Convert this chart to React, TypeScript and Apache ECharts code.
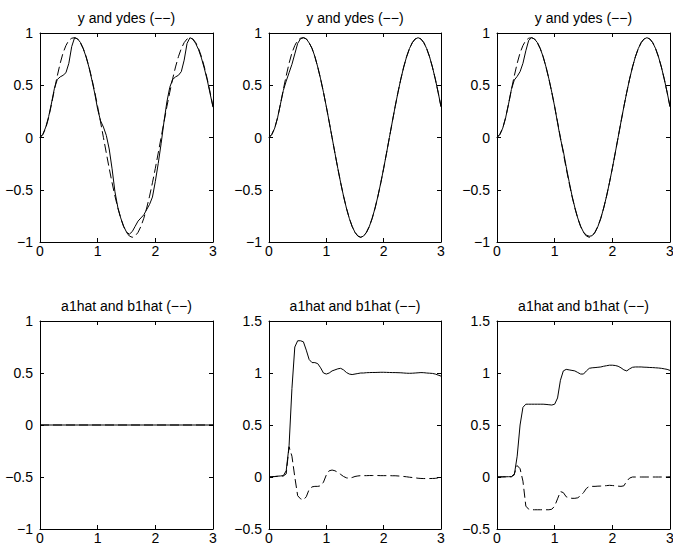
import React, { useEffect, useRef } from "react";
import * as echarts from "echarts";

const FONT = "'Liberation Sans', Arial, Helvetica, sans-serif";

// time samples (s)
const X = [
  0, 0.05, 0.1, 0.15, 0.2, 0.25, 0.3, 0.35, 0.4, 0.45,
  0.5, 0.55, 0.6, 0.65, 0.7, 0.75, 0.8, 0.85, 0.9, 0.95,
  1, 1.05, 1.1, 1.15, 1.2, 1.25, 1.3, 1.35, 1.4, 1.45,
  1.5, 1.55, 1.6, 1.65, 1.7, 1.75, 1.8, 1.85, 1.9, 1.95,
  2, 2.05, 2.1, 2.15, 2.2, 2.25, 2.3, 2.35, 2.4, 2.45,
  2.5, 2.55, 2.6, 2.65, 2.7, 2.75, 2.8, 2.85, 2.9, 2.95,
  3,
];

// desired output (dashed, top row)
const ydes = [
  0, 0.03, 0.09, 0.19, 0.32, 0.46, 0.59, 0.71, 0.81, 0.88,
  0.93, 0.95, 0.955, 0.943, 0.908, 0.851, 0.773, 0.675, 0.561, 0.433,
  0.295, 0.149, 0, -0.149, -0.295, -0.433, -0.561, -0.675, -0.773, -0.851,
  -0.908, -0.943, -0.955, -0.943, -0.908, -0.851, -0.773, -0.675, -0.561, -0.433,
  -0.295, -0.149, 0, 0.149, 0.295, 0.433, 0.561, 0.675, 0.773, 0.851,
  0.908, 0.943, 0.955, 0.943, 0.908, 0.851, 0.773, 0.675, 0.561, 0.433,
  0.295,
];

// output y, left column
const yLeft = [
  0, 0.03, 0.1, 0.2, 0.33, 0.47, 0.555, 0.58, 0.595, 0.62,
  0.71, 0.87, 0.955, 0.945, 0.91, 0.85, 0.77, 0.67, 0.55, 0.42,
  0.27, 0.16, 0.1, 0.02, -0.11, -0.3, -0.52, -0.67, -0.77, -0.85,
  -0.905, -0.925, -0.9, -0.85, -0.8, -0.77, -0.74, -0.69, -0.64, -0.57,
  -0.42, -0.25, -0.06, 0.15, 0.34, 0.48, 0.555, 0.58, 0.595, 0.63,
  0.74, 0.9, 0.955, 0.94, 0.9, 0.84, 0.76, 0.66, 0.55, 0.42,
  0.29,
];

// output y, middle column
const yMid = [
  0, 0.03, 0.09, 0.19, 0.32, 0.45, 0.54, 0.62, 0.7, 0.8,
  0.9, 0.945, 0.955, 0.945, 0.905, 0.855, 0.775, 0.675, 0.561, 0.433,
  0.295, 0.149, 0, -0.149, -0.295, -0.433, -0.561, -0.675, -0.773, -0.851,
  -0.908, -0.943, -0.955, -0.943, -0.908, -0.851, -0.773, -0.675, -0.561, -0.433,
  -0.295, -0.149, 0, 0.149, 0.295, 0.433, 0.561, 0.675, 0.773, 0.851,
  0.908, 0.943, 0.955, 0.943, 0.908, 0.851, 0.773, 0.675, 0.561, 0.433,
  0.295,
];

// output y, right column
const yRight = [
  0, 0.03, 0.09, 0.19, 0.32, 0.46, 0.55, 0.585, 0.63, 0.71,
  0.83, 0.93, 0.955, 0.943, 0.908, 0.851, 0.773, 0.675, 0.561, 0.433,
  0.295, 0.14, -0.01, -0.13, -0.28, -0.42, -0.555, -0.67, -0.77, -0.85,
  -0.905, -0.935, -0.945, -0.94, -0.905, -0.851, -0.773, -0.675, -0.561, -0.433,
  -0.295, -0.149, 0, 0.149, 0.295, 0.433, 0.561, 0.675, 0.773, 0.851,
  0.908, 0.943, 0.955, 0.943, 0.908, 0.851, 0.773, 0.675, 0.561, 0.433,
  0.295,
];

// parameter estimates, left column (both stay at zero)
const XL = [0, 3];
const a1Left = [0, 0];
const b1Left = [0, 0];

// parameter estimates, middle column
const a1Mid = [
  0, 0.003, 0.005, 0.008, 0.01, 0.013, 0.06, 0.3, 0.85, 1.25,
  1.31, 1.31, 1.3, 1.22, 1.13, 1.1, 1.1, 1.09, 1.05, 1.0,
  0.99, 1.0, 1.02, 1.03, 1.04, 1.045, 1.03, 1.005, 0.99, 0.985,
  0.99, 0.995, 1.0, 1.0, 1.003, 1.004, 1.005, 1.005, 1.006, 1.007,
  1.007, 1.006, 1.005, 1.004, 1.004, 1.003, 1.002, 1.0, 0.998, 0.997,
  0.998, 1.0, 1.002, 1.004, 1.003, 1.0, 0.998, 0.996, 0.99, 0.98,
  0.97,
];
const b1Mid = [
  0, 0.002, 0.004, 0.006, 0.008, 0.01, 0.03, 0.29, 0.2, 0.0,
  -0.18, -0.21, -0.22, -0.19, -0.12, -0.095, -0.09, -0.09, -0.085, -0.05,
  0.02, 0.06, 0.067, 0.06, 0.045, 0.025, 0.005, -0.008, -0.012, -0.005,
  0.005, 0.01, 0.013, 0.013, 0.013, 0.014, 0.014, 0.014, 0.014, 0.013,
  0.013, 0.013, 0.013, 0.012, 0.012, 0.01, 0.008, 0.005, 0.002, -0.002,
  -0.005, -0.008, -0.012, -0.014, -0.015, -0.015, -0.015, -0.014, -0.013, -0.008,
  -0.003,
];

// parameter estimates, right column
const a1Right = [
  0, 0.001, 0.002, 0.002, 0.003, 0.003, 0.02, 0.2, 0.5, 0.67,
  0.7, 0.7, 0.7, 0.7, 0.7, 0.7, 0.7, 0.698, 0.695, 0.692,
  0.7, 0.76, 0.93, 1.02, 1.035, 1.03, 1.025, 1.02, 1.005, 0.99,
  0.99, 1.02, 1.045, 1.05, 1.052, 1.055, 1.058, 1.065, 1.07, 1.075,
  1.075, 1.072, 1.065, 1.05, 1.03, 1.02, 1.04, 1.055, 1.058, 1.058,
  1.058, 1.056, 1.055, 1.053, 1.052, 1.05, 1.048, 1.045, 1.04, 1.035,
  1.025,
];
const b1Right = [
  0, 0.001, 0.001, 0.002, 0.002, 0.003, 0.03, 0.11, 0.08, -0.04,
  -0.28, -0.31, -0.315, -0.315, -0.315, -0.315, -0.315, -0.315, -0.315, -0.31,
  -0.28, -0.21, -0.14, -0.15, -0.19, -0.2, -0.205, -0.205, -0.2, -0.18,
  -0.15, -0.11, -0.09, -0.09, -0.09, -0.088, -0.087, -0.085, -0.083, -0.08,
  -0.082, -0.085, -0.088, -0.09, -0.085, -0.04, -0.01, 0, 0, 0,
  0, 0, 0, 0, 0, 0, 0, 0, 0, 0.001,
  0.002,
];

const TITLE_TOP = "y and ydes (\u2212\u2212)";
const TITLE_BOTTOM = "a1hat and b1hat (\u2212\u2212)";

const X_TICKS = { min: 0, max: 3, interval: 1 };

const panels = [
  { left: 40, top: 33, width: 173, height: 209, ymin: -1, ymax: 1, title: TITLE_TOP, xs: X, solid: yLeft, dashed: ydes },
  { left: 269, top: 33, width: 172, height: 209, ymin: -1, ymax: 1, title: TITLE_TOP, xs: X, solid: yMid, dashed: ydes },
  { left: 497, top: 33, width: 173, height: 209, ymin: -1, ymax: 1, title: TITLE_TOP, xs: X, solid: yRight, dashed: ydes },
  { left: 40, top: 321, width: 173, height: 208, ymin: -1, ymax: 1, title: TITLE_BOTTOM, xs: XL, solid: a1Left, dashed: b1Left },
  { left: 269, top: 321, width: 172, height: 208, ymin: -0.5, ymax: 1.5, title: TITLE_BOTTOM, xs: X, solid: a1Mid, dashed: b1Mid },
  { left: 497, top: 321, width: 173, height: 208, ymin: -0.5, ymax: 1.5, title: TITLE_BOTTOM, xs: X, solid: a1Right, dashed: b1Right },
];

const fmt = (v: number) => (v < 0 ? "\u2212" + String(-v) : String(v));

function buildOption() {
  const grid: any[] = [];
  const xAxis: any[] = [];
  const yAxis: any[] = [];
  const series: any[] = [];
  const title: any[] = [];
  const lineStyle = { color: "#000", width: 1 };
  panels.forEach((p, i) => {
    grid.push({ left: p.left, top: p.top, width: p.width, height: p.height, containLabel: false, outerBoundsMode: "none" });
    const common = {
      gridIndex: i,
      type: "value",
      splitLine: { show: false },
      axisLine: { show: true, onZero: false, lineStyle },
      axisTick: { show: true, inside: true, length: 4, lineStyle },
    };
    xAxis.push({
      ...common,
      position: "bottom",
      ...X_TICKS,
      axisLabel: { show: true, color: "#000", fontSize: 14, fontFamily: FONT, margin: 2, formatter: fmt },
    });
    xAxis.push({ ...common, position: "top", ...X_TICKS, axisLabel: { show: false } });
    yAxis.push({
      ...common,
      position: "left",
      min: p.ymin,
      max: p.ymax,
      interval: 0.5,
      axisLabel: { show: true, color: "#000", fontSize: 14, fontFamily: FONT, margin: 7, formatter: fmt },
    });
    yAxis.push({ ...common, position: "right", min: p.ymin, max: p.ymax, interval: 0.5, axisLabel: { show: false } });
    series.push({
      type: "line",
      xAxisIndex: 2 * i,
      yAxisIndex: 2 * i,
      data: p.xs.map((x, k) => [x, p.dashed[k]]),
      showSymbol: false,
      lineStyle: { color: "#000", width: 1, type: [9, 4] },
      silent: true,
    });
    series.push({
      type: "line",
      xAxisIndex: 2 * i,
      yAxisIndex: 2 * i,
      data: p.xs.map((x, k) => [x, p.solid[k]]),
      showSymbol: false,
      lineStyle: { color: "#000", width: 1 },
      silent: true,
    });
    title.push({
      text: p.title,
      left: p.left + p.width / 2,
      top: p.top - 22,
      textAlign: "center",
      padding: 0,
      textStyle: { color: "#000", fontSize: 14, fontWeight: "normal", fontFamily: FONT },
    });
  });
  return { animation: false, backgroundColor: "#fff", title, grid, xAxis, yAxis, series };
}

export default function App() {
  const ref = useRef<HTMLDivElement>(null);
  useEffect(() => {
    if (!ref.current) return;
    const chart = echarts.init(ref.current, undefined, { renderer: "svg" });
    chart.setOption(buildOption() as any);
    return () => chart.dispose();
  }, []);
  return (
    <div
      ref={ref}
      style={{ position: "fixed", left: 0, top: 0, width: 673, height: 551, background: "#fff" }}
    />
  );
}
